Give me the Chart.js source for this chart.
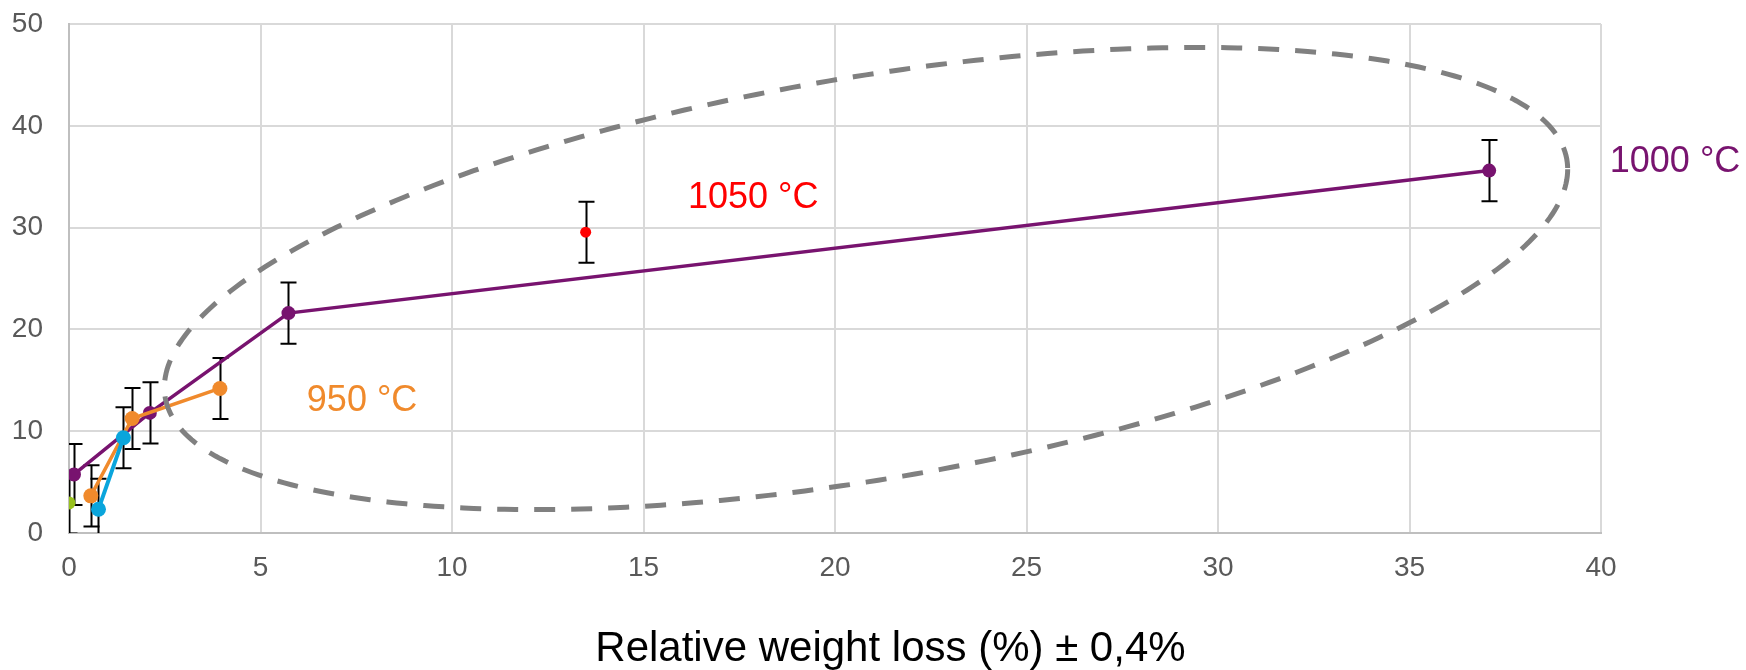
<!DOCTYPE html>
<html>
<head>
<meta charset="utf-8">
<script src="https://cdn.jsdelivr.net/npm/chart.js@4/dist/chart.umd.min.js"></script>
<style>
  body { margin: 0; background: #fff; }
  #wrap { width: 1746px; height: 670px; }
</style>
</head>
<body>
<div id="wrap"><canvas id="tgaChart" width="1746" height="670"></canvas></div>
<script>
// values
let purpleX = [0.13, 2.11, 5.73, 37.08];
let purpleY = [5.75, 11.8, 21.6, 35.6];
let purpleErr = [3, 3, 3, 3];

let orangeX = [0.57, 1.65, 3.94];
let orangeY = [3.65, 11.25, 14.2];
let orangeErr = [3, 3, 3];

let blueX = [0.77, 1.42];
let blueY = [2.34, 9.35];
let blueErr = [3, 3];

let greenX = [0];
let greenY = [2.95];
let greenErr = [3];

let redX = [13.49];
let redY = [29.55];
let redErr = [3];

let xTicks = [0, 5, 10, 15, 20, 25, 30, 35, 40];
let yTicks = [0, 10, 20, 30, 40, 50];

const FONT = '"Liberation Sans", Arial, sans-serif';

function points(xs, ys){
    return xs.map((x, i) => ({ x: x, y: ys[i] }));
}

function series(xs, ys, errs, color, width, radius){
    return {
        data: points(xs, ys),
        errors: errs,
        showLine: true,
        borderColor: color,
        backgroundColor: color,
        borderWidth: width,
        pointRadius: radius,
        pointBorderWidth: 0,
        pointHoverRadius: radius
    };
}

// text labels and the dashed outline, anchored in data units
let notes = [
    { text: '1050 °C', x: 16.16, y: 32.9, color: '#FF0000' },
    { text: '950 °C', x: 6.21, y: 12.98, color: '#F08A2C' },
    { text: '1000 °C', x: 40.23, y: 36.4, color: '#78136F' }
];
let outline = { cx: 20.81, cy: 25.0, w: 18.32, h: 22.7, phase: 1.0786 };

const errorBars = {
    id: 'errorBars',
    beforeDatasetsDraw(chart){
        const c = chart.ctx, a = chart.chartArea;
        const xs = chart.scales.x, ys = chart.scales.y;
        c.save();
        c.beginPath();
        c.rect(a.left, a.top - 20, a.right - a.left, a.bottom - a.top + 20);
        c.clip();
        c.strokeStyle = '#000';
        c.lineWidth = 2;
        chart.data.datasets.forEach(ds => {
            ds.data.forEach((p, i) => {
                const e = ds.errors[i];
                const px = Math.round(xs.getPixelForValue(p.x)) + 0.5;
                const top = ys.getPixelForValue(p.y + e);
                const bot = ys.getPixelForValue(p.y - e);
                c.beginPath();
                c.moveTo(px, top); c.lineTo(px, bot);
                c.moveTo(px - 8, top); c.lineTo(px + 8, top);
                c.moveTo(px - 8, bot); c.lineTo(px + 8, bot);
                c.stroke();
            });
        });
        c.restore();
    }
};

const annotations = {
    id: 'annotations',
    afterDatasetsDraw(chart){
        const c = chart.ctx;
        const xs = chart.scales.x, ys = chart.scales.y;
        c.save();
        c.strokeStyle = '#808080';
        c.lineWidth = 5;
        c.setLineDash([21, 16]);
        c.beginPath();
        for(let k = 0; k <= 360; k++){
            const t = k * Math.PI / 180;
            const px = xs.getPixelForValue(outline.cx + outline.w * Math.cos(t));
            const py = ys.getPixelForValue(outline.cy + outline.h * Math.cos(t + outline.phase));
            if(k === 0) c.moveTo(px, py); else c.lineTo(px, py);
        }
        c.closePath();
        c.stroke();
        c.setLineDash([]);

        c.font = '36px ' + FONT;
        c.textAlign = 'left';
        c.textBaseline = 'middle';
        notes.forEach(n => {
            c.fillStyle = n.color;
            c.fillText(n.text, xs.getPixelForValue(n.x), ys.getPixelForValue(n.y));
        });

        c.font = '42px ' + FONT;
        c.fillStyle = '#000';
        c.textAlign = 'center';
        c.textBaseline = 'alphabetic';
        c.fillText('Relative weight loss (%) ± 0,4%', chart.width * 0.51, 661);
        c.restore();
    }
};

let ctx = document.getElementById('tgaChart').getContext('2d');

let tgaChart = new Chart(ctx, {
    type: 'scatter',
    data: {
        datasets: [
            series(redX, redY, redErr, '#FF0000', 3, 5.5),
            series(greenX, greenY, greenErr, '#99C21F', 3, 6.5),
            series(blueX, blueY, blueErr, '#0AA5DC', 4, 7.5),
            series(orangeX, orangeY, orangeErr, '#F08A2C', 3.5, 7.5),
            series(purpleX, purpleY, purpleErr, '#78136F', 3.5, 7)
        ]
    },
    options: {
        responsive: false,
        animation: false,
        layout: { padding: { left: 0, right: 145, top: 24, bottom: 0 } },
        plugins: {
            legend: { display: false },
            tooltip: { enabled: false }
        },
        scales: {
            x: {
                type: 'linear',
                min: 0, max: 40,
                afterBuildTicks: s => { s.ticks = xTicks.map(v => ({ value: v })); },
                afterFit: s => { s.height = 137; s.paddingLeft = 0; s.paddingRight = 0; },
                grid: { color: '#D9D9D9', lineWidth: 2, drawTicks: false },
                border: { color: '#BFBFBF', width: 2 },
                ticks: { color: '#595959', font: { family: FONT, size: 28 }, padding: 18 }
            },
            y: {
                type: 'linear',
                min: 0, max: 50,
                afterBuildTicks: s => { s.ticks = yTicks.map(v => ({ value: v })); },
                afterFit: s => { s.width = 69; s.paddingTop = 0; s.paddingBottom = 0; },
                grid: { color: '#D9D9D9', lineWidth: 2, drawTicks: false },
                border: { color: '#BFBFBF', width: 2 },
                ticks: { color: '#595959', font: { family: FONT, size: 28 }, padding: 26 }
            }
        }
    },
    plugins: [errorBars, annotations]
});
</script>
</body>
</html>
